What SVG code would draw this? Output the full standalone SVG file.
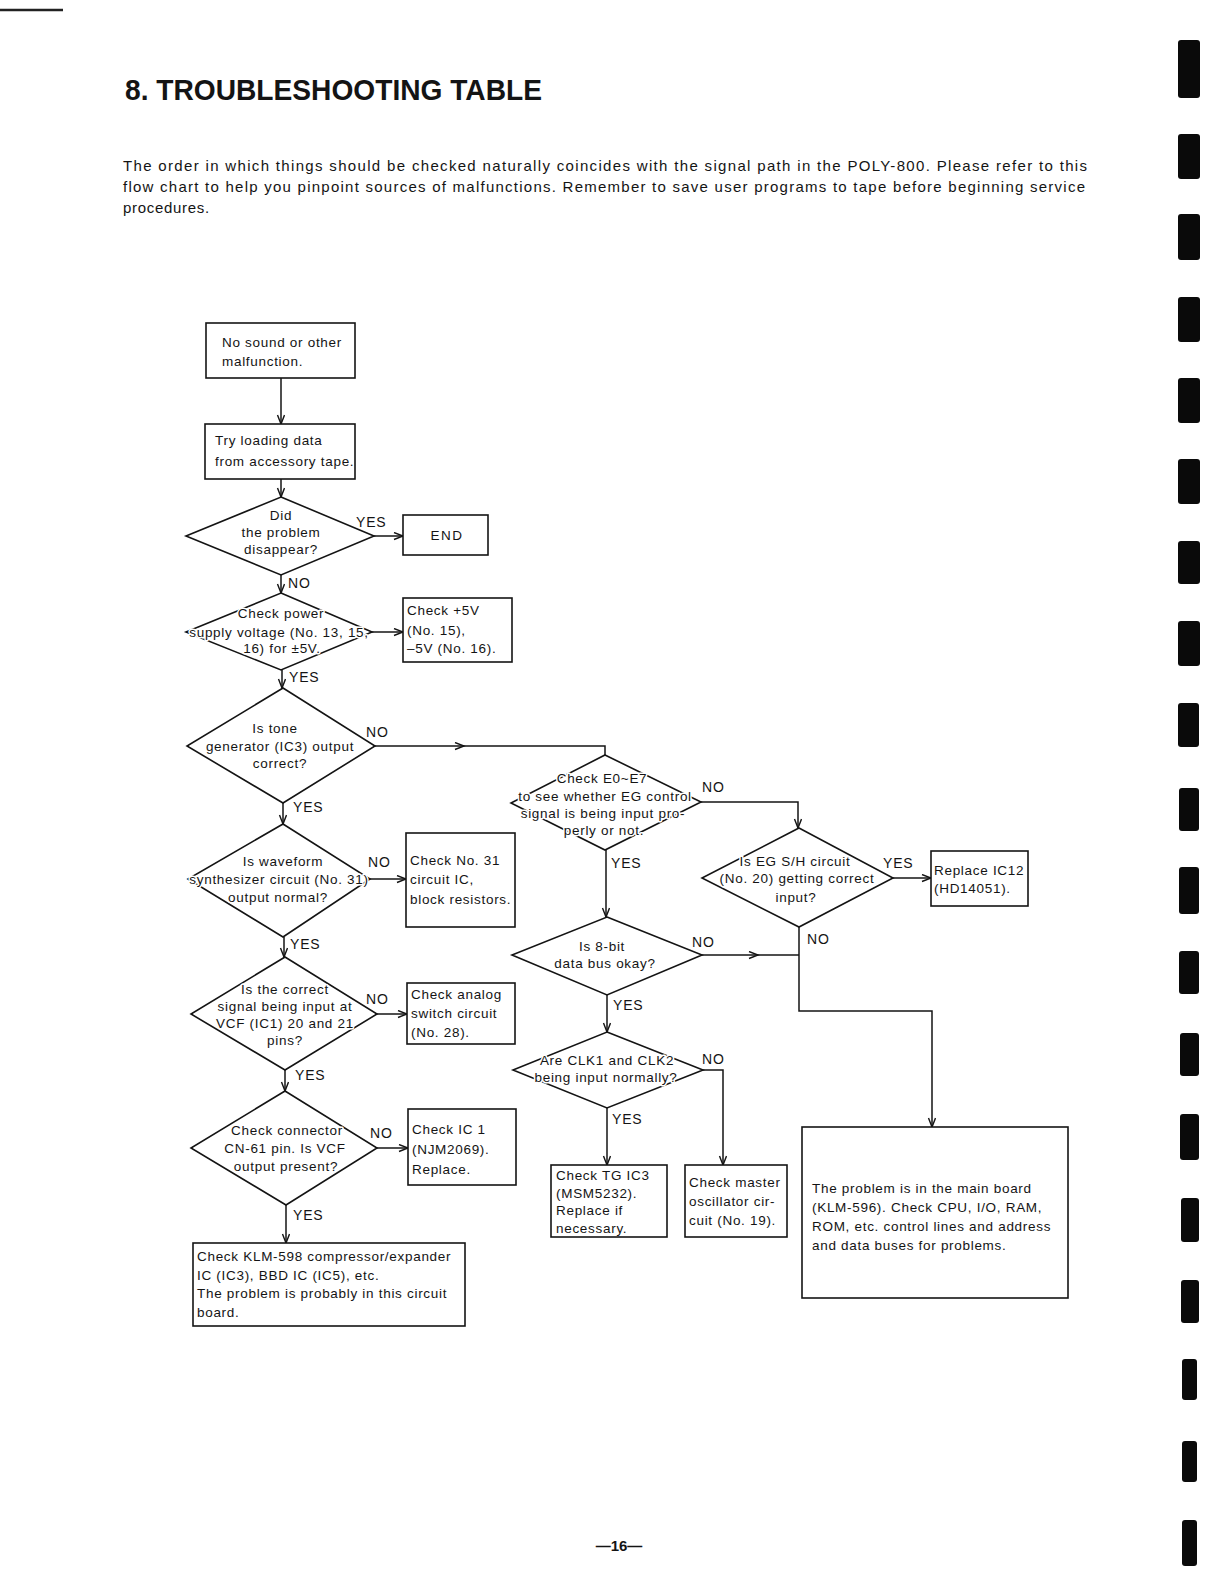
<svg xmlns="http://www.w3.org/2000/svg" width="1221" height="1585" viewBox="0 0 1221 1585">
<style>
text{font-family:"Liberation Sans",Arial,sans-serif;fill:#141414}
.t{font-size:13.5px;letter-spacing:0.7px}
.c{text-anchor:middle}
.d{paint-order:stroke;stroke:#fff;stroke-width:3px;stroke-linejoin:round}
.box{fill:#fff;stroke:#141414;stroke-width:1.6}
.dia{fill:#fff;stroke:#141414;stroke-width:1.6;stroke-linejoin:miter}
.con{fill:none;stroke:#141414;stroke-width:1.5}
.lab{font-size:14px;letter-spacing:0.8px}
.par{font-size:15px}
.mark{fill:#0a0a0a}
</style>
<defs>
<marker id="arr" markerUnits="userSpaceOnUse" markerWidth="12" markerHeight="10" refX="10" refY="4" orient="auto">
<path d="M1,0.5 L10,4 L1,7.5" fill="none" stroke="#141414" stroke-width="1.4"/>
</marker>
</defs>
<rect width="1221" height="1585" fill="#fff"/>

<g id="page">
<line x1="0" y1="10" x2="63" y2="10" stroke="#222" stroke-width="2.5"/>
<text x="125" y="100" font-size="30" font-weight="bold" textLength="417" lengthAdjust="spacingAndGlyphs">8. TROUBLESHOOTING TABLE</text>
<text class="par" x="123" y="171" textLength="964" lengthAdjust="spacing">The order in which things should be checked naturally coincides with the signal path in the POLY-800. Please refer to this</text>
<text class="par" x="123" y="192" textLength="962" lengthAdjust="spacing">flow chart to help you pinpoint sources of malfunctions. Remember to save user programs to tape before beginning service</text>
<text class="par" x="123" y="213" style="letter-spacing:0.7px">procedures.</text>
<text x="619" y="1551" font-size="15" font-weight="bold" text-anchor="middle">—16—</text>
</g>

<g id="scan-marks">
<rect class="mark" x="1178" y="40" width="22" height="58" rx="3"/>
<rect class="mark" x="1178" y="134" width="22" height="45" rx="3"/>
<rect class="mark" x="1178" y="214" width="22" height="46" rx="3"/>
<rect class="mark" x="1178" y="297" width="22" height="45" rx="3"/>
<rect class="mark" x="1178" y="378" width="22" height="45" rx="3"/>
<rect class="mark" x="1178" y="459" width="22" height="45" rx="3"/>
<rect class="mark" x="1178" y="541" width="22" height="43" rx="3"/>
<rect class="mark" x="1178" y="621" width="22" height="45" rx="3"/>
<rect class="mark" x="1178" y="703" width="21" height="44" rx="3"/>
<rect class="mark" x="1179" y="788" width="20" height="43" rx="3"/>
<rect class="mark" x="1179" y="867" width="20" height="47" rx="3"/>
<rect class="mark" x="1179" y="951" width="20" height="43" rx="3"/>
<rect class="mark" x="1180" y="1033" width="19" height="43" rx="3"/>
<rect class="mark" x="1180" y="1114" width="19" height="46" rx="3"/>
<rect class="mark" x="1181" y="1198" width="18" height="44" rx="3"/>
<rect class="mark" x="1181" y="1280" width="18" height="43" rx="3"/>
<rect class="mark" x="1182" y="1359" width="15" height="41" rx="3"/>
<rect class="mark" x="1182" y="1441" width="15" height="41" rx="3"/>
<rect class="mark" x="1182" y="1520" width="15" height="46" rx="3"/>
</g>

<g id="connectors">
<path class="con" d="M281,378 V424" marker-end="url(#arr)"/>
<path class="con" d="M281,479 V497" marker-end="url(#arr)"/>
<path class="con" d="M374,536 H403" marker-end="url(#arr)"/>
<path class="con" d="M281,575 V593" marker-end="url(#arr)"/>
<path class="con" d="M372,632 H403" marker-end="url(#arr)"/>
<path class="con" d="M282,670 V688" marker-end="url(#arr)"/>
<path class="con" d="M375,746 H464" marker-end="url(#arr)"/>
<path class="con" d="M462,746 H605 V755"/>
<path class="con" d="M283,803 V824" marker-end="url(#arr)"/>
<path class="con" d="M370,879 H406" marker-end="url(#arr)"/>
<path class="con" d="M284,937 V957" marker-end="url(#arr)"/>
<path class="con" d="M377,1014 H407" marker-end="url(#arr)"/>
<path class="con" d="M285,1070 V1091" marker-end="url(#arr)"/>
<path class="con" d="M377,1148 H408" marker-end="url(#arr)"/>
<path class="con" d="M286,1205 V1243" marker-end="url(#arr)"/>
<path class="con" d="M701,802 H798 V828" marker-end="url(#arr)"/>
<path class="con" d="M893,878 H931" marker-end="url(#arr)"/>
<path class="con" d="M799,927 V1011 H932 V1127" marker-end="url(#arr)"/>
<path class="con" d="M606,850 V917" marker-end="url(#arr)"/>
<path class="con" d="M702,955 H758" marker-end="url(#arr)"/>
<path class="con" d="M756,955 H799"/>
<path class="con" d="M607,995 V1032" marker-end="url(#arr)"/>
<path class="con" d="M703,1070 H723 V1165" marker-end="url(#arr)"/>
<path class="con" d="M607,1108 V1165" marker-end="url(#arr)"/>
</g>

<g id="labels">
<text class="lab" x="356" y="527">YES</text>
<text class="lab" x="288" y="588">NO</text>
<text class="lab" x="289" y="682">YES</text>
<text class="lab" x="366" y="737">NO</text>
<text class="lab" x="293" y="812">YES</text>
<text class="lab" x="368" y="867">NO</text>
<text class="lab" x="290" y="949">YES</text>
<text class="lab" x="366" y="1004">NO</text>
<text class="lab" x="295" y="1080">YES</text>
<text class="lab" x="370" y="1138">NO</text>
<text class="lab" x="293" y="1220">YES</text>
<text class="lab" x="702" y="792">NO</text>
<text class="lab" x="611" y="868">YES</text>
<text class="lab" x="883" y="868">YES</text>
<text class="lab" x="807" y="944">NO</text>
<text class="lab" x="692" y="947">NO</text>
<text class="lab" x="613" y="1010">YES</text>
<text class="lab" x="702" y="1064">NO</text>
<text class="lab" x="612" y="1124">YES</text>
</g>

<g id="n-start">
<rect class="box" x="206" y="323" width="149" height="55"/>
<text class="t" x="222" y="347">No sound or other</text>
<text class="t" x="222" y="366">malfunction.</text>
</g>

<g id="n-tape">
<rect class="box" x="205" y="424" width="150" height="55"/>
<text class="t" x="215" y="445">Try loading data</text>
<text class="t" x="215" y="466">from accessory tape.</text>
</g>

<g id="d-disappear">
<polygon class="dia" points="281,497 374,536 281,575 186,536"/>
<text class="t c d" x="281" y="520">Did</text>
<text class="t c d" x="281" y="537">the problem</text>
<text class="t c d" x="281" y="554">disappear?</text>
</g>

<g id="n-end">
<rect class="box" x="403" y="515" width="85" height="40"/>
<text class="t c" x="447" y="540" style="letter-spacing:1.5px">END</text>
</g>

<g id="d-power">
<polygon class="dia" points="281,593 372,632 281,670 186,632"/>
<text class="t c d" x="281" y="618">Check power</text>
<text class="t c d" x="279" y="637">supply voltage (No. 13, 15,</text>
<text class="t c d" x="282" y="653">16) for ±5V.</text>
</g>

<g id="n-5v">
<rect class="box" x="403" y="598" width="109" height="64"/>
<text class="t" x="407" y="615">Check +5V</text>
<text class="t" x="407" y="635">(No. 15),</text>
<text class="t" x="407" y="653">–5V (No. 16).</text>
</g>

<g id="d-tone">
<polygon class="dia" points="283,688 375,746 283,803 187,746"/>
<text class="t c d" x="275" y="733">Is tone</text>
<text class="t c d" x="280" y="751">generator (IC3) output</text>
<text class="t c d" x="280" y="768">correct?</text>
</g>

<g id="d-wave">
<polygon class="dia" points="283,824 370,879 283,937 188,879"/>
<text class="t c d" x="283" y="866">Is waveform</text>
<text class="t c d" x="279" y="884">synthesizer circuit (No. 31)</text>
<text class="t c d" x="278" y="902">output normal?</text>
</g>

<g id="n-31">
<rect class="box" x="406" y="833" width="109" height="94"/>
<text class="t" x="410" y="865">Check No. 31</text>
<text class="t" x="410" y="884">circuit IC,</text>
<text class="t" x="410" y="904">block resistors.</text>
</g>

<g id="d-vcf">
<polygon class="dia" points="285,957 377,1014 285,1070 191,1014"/>
<text class="t c d" x="285" y="994">Is the correct</text>
<text class="t c d" x="285" y="1011">signal being input at</text>
<text class="t c d" x="285" y="1028">VCF (IC1) 20 and 21</text>
<text class="t c d" x="285" y="1045">pins?</text>
</g>

<g id="n-analog">
<rect class="box" x="407" y="983" width="108" height="61"/>
<text class="t" x="411" y="999">Check analog</text>
<text class="t" x="411" y="1018">switch circuit</text>
<text class="t" x="411" y="1037">(No. 28).</text>
</g>

<g id="d-cn61">
<polygon class="dia" points="285,1091 377,1148 286,1205 191,1148"/>
<text class="t c d" x="287" y="1135">Check connector</text>
<text class="t c d" x="285" y="1153">CN-61 pin.  Is VCF</text>
<text class="t c d" x="286" y="1171">output present?</text>
</g>

<g id="n-ic1">
<rect class="box" x="408" y="1109" width="108" height="76"/>
<text class="t" x="412" y="1134">Check IC 1</text>
<text class="t" x="412" y="1154">(NJM2069).</text>
<text class="t" x="412" y="1174">Replace.</text>
</g>

<g id="n-klm598">
<rect class="box" x="193" y="1243" width="272" height="83"/>
<text class="t" x="197" y="1261">Check KLM-598 compressor/expander</text>
<text class="t" x="197" y="1280">IC (IC3), BBD IC (IC5), etc.</text>
<text class="t" x="197" y="1298">The problem is probably in this circuit</text>
<text class="t" x="197" y="1317">board.</text>
</g>

<g id="d-e0e7">
<polygon class="dia" points="605,755 701,802 605,850 511,803"/>
<text class="t c d" x="602" y="783">Check E0~E7</text>
<text class="t c d" x="605" y="801">to see whether EG control</text>
<text class="t c d" x="603" y="818">signal is being input pro-</text>
<text class="t c d" x="604" y="835">perly or not.</text>
</g>

<g id="d-egsh">
<polygon class="dia" points="799,828 893,878 799,927 702,878"/>
<text class="t c d" x="795" y="866">Is EG S/H circuit</text>
<text class="t c d" x="797" y="883">(No. 20) getting correct</text>
<text class="t c d" x="796" y="902">input?</text>
</g>

<g id="n-ic12">
<rect class="box" x="931" y="851" width="97" height="55"/>
<text class="t" x="934" y="875">Replace IC12</text>
<text class="t" x="934" y="893">(HD14051).</text>
</g>

<g id="d-8bit">
<polygon class="dia" points="607,917 702,955 607,995 512,955"/>
<text class="t c d" x="602" y="951">Is 8-bit</text>
<text class="t c d" x="605" y="968">data bus okay?</text>
</g>

<g id="d-clk">
<polygon class="dia" points="607,1032 703,1070 607,1108 513,1070"/>
<text class="t c d" x="607" y="1065">Are CLK1 and CLK2</text>
<text class="t c d" x="606" y="1082">being input normally?</text>
</g>

<g id="n-tg">
<rect class="box" x="551" y="1165" width="116" height="72"/>
<text class="t" x="556" y="1180">Check TG IC3</text>
<text class="t" x="556" y="1198">(MSM5232).</text>
<text class="t" x="556" y="1215">Replace if</text>
<text class="t" x="556" y="1233">necessary.</text>
</g>

<g id="n-osc">
<rect class="box" x="685" y="1165" width="102" height="72"/>
<text class="t" x="689" y="1187">Check master</text>
<text class="t" x="689" y="1206">oscillator cir-</text>
<text class="t" x="689" y="1225">cuit (No. 19).</text>
</g>

<g id="n-main">
<rect class="box" x="802" y="1127" width="266" height="171"/>
<text class="t" x="812" y="1193">The problem is in the main board</text>
<text class="t" x="812" y="1212">(KLM-596). Check CPU, I/O, RAM,</text>
<text class="t" x="812" y="1231">ROM, etc. control lines and address</text>
<text class="t" x="812" y="1250">and data buses for problems.</text>
</g>
</svg>
